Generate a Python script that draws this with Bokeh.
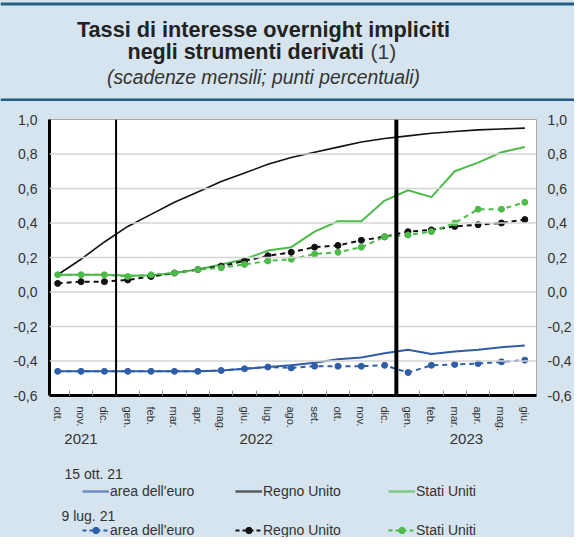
from bokeh.plotting import figure
from bokeh.layouts import column
from bokeh.models import (Range1d, FixedTicker, LinearAxis, Span, Label, Legend,
                          LegendItem, BoxAnnotation)
from bokeh.embed import file_html
from bokeh.resources import INLINE

# ---------------- data ----------------
months = ["ott.", "nov.", "dic.", "gen.", "feb.", "mar.", "apr.", "mag.", "giu.",
          "lug.", "ago.", "set.", "ott.", "nov.", "dic.", "gen.", "feb.", "mar.",
          "apr.", "mag.", "giu."]
years = ["2021", "2022", "2023"]
year_months = [3, 12, 6]          # months of each year shown
y_ticks = [-0.6, -0.4, -0.2, 0.0, 0.2, 0.4, 0.6, 0.8, 1.0]
y_tick_labels = ["-0,6", "-0,4", "-0,2", "0,0", "0,2", "0,4", "0,6", "0,8", "1,0"]
series_names = ["area dell'euro", "Regno Unito", "Stati Uniti"]
dates = ["15 ott. 21", "9 lug. 21"]

# 15 ott. 21 (solid)
euro_15ott = [-0.46, -0.46, -0.46, -0.46, -0.46, -0.46, -0.46, -0.455, -0.445, -0.435,
              -0.425, -0.41, -0.39, -0.38, -0.355, -0.335, -0.36, -0.345, -0.335, -0.32, -0.31]
uk_15ott = [0.10, 0.19, 0.29, 0.38, 0.45, 0.52, 0.58, 0.64, 0.69, 0.74,
            0.78, 0.81, 0.84, 0.87, 0.89, 0.905, 0.92, 0.93, 0.94, 0.945, 0.95]
us_15ott = [0.10, 0.10, 0.10, 0.095, 0.095, 0.11, 0.13, 0.16, 0.19, 0.24,
            0.26, 0.35, 0.41, 0.41, 0.53, 0.59, 0.55, 0.70, 0.75, 0.81, 0.84]
# 9 lug. 21 (dashed)
euro_9lug = [-0.46, -0.46, -0.46, -0.46, -0.46, -0.46, -0.46, -0.455, -0.445, -0.435,
             -0.44, -0.43, -0.43, -0.43, -0.425, -0.467, -0.425, -0.42, -0.415, -0.405, -0.395]
uk_9lug = [0.05, 0.06, 0.06, 0.07, 0.09, 0.11, 0.13, 0.15, 0.18, 0.21,
           0.23, 0.26, 0.27, 0.30, 0.32, 0.35, 0.36, 0.38, 0.39, 0.40, 0.42]
us_9lug = [0.10, 0.10, 0.10, 0.09, 0.10, 0.11, 0.13, 0.14, 0.16, 0.18,
           0.19, 0.22, 0.23, 0.26, 0.32, 0.33, 0.35, 0.40, 0.48, 0.48, 0.52]

# ---------------- style ----------------
FONT = "Liberation Sans"
BLUE = "#2f5ea8"
GREEN = "#4dbb4a"
BLACK = "#111111"
PANEL = "#d5e4ee"
DARK = "#23607f"
TXT = "#333333"
COLORS = [BLUE, BLACK, GREEN]

W = 574
HH, MH, LH = 101, 351, 85          # header / chart / legend heights
FL, FR, FT, FB = 49, 537, 18, 294  # chart frame edges (canvas px)

x = list(range(len(months)))


def blank_fig(height):
    f = figure(width=W, height=height, output_backend="svg", toolbar_location=None,
               x_range=Range1d(0, W), y_range=Range1d(height, 0),
               min_border_left=0, min_border_right=0, min_border_top=0,
               min_border_bottom=0, x_axis_type=None, y_axis_type=None,
               frame_align=False)
    f.border_fill_color = PANEL
    f.background_fill_color = PANEL
    f.outline_line_color = None
    f.xgrid.visible = False
    f.ygrid.visible = False
    return f


# ---------------- header ----------------
h = blank_fig(HH)
h.add_layout(BoxAnnotation(left=0, right=W, top=2, bottom=5, fill_color=DARK,
                           fill_alpha=1, line_color=None))
h.add_layout(BoxAnnotation(left=0, right=W, top=98, bottom=101, fill_color=DARK,
                           fill_alpha=1, line_color=None))
h.add_layout(Label(x=263, y=29, text="Tassi di interesse overnight impliciti",
                   text_font=FONT, text_font_size="21.7px", text_font_style="bold",
                   text_color="#222222", text_align="center", text_baseline="middle"))
h.add_layout(Label(x=127, y=51, text="negli strumenti derivati",
                   text_font=FONT, text_font_size="21.5px", text_font_style="bold",
                   text_color="#222222", text_align="left", text_baseline="middle"))
h.add_layout(Label(x=370, y=51, text="(1)", text_font=FONT, text_font_size="21px",
                   text_color="#3a3a3a", text_align="left", text_baseline="middle"))
h.add_layout(Label(x=263, y=77, text="(scadenze mensili; punti percentuali)",
                   text_font=FONT, text_font_size="19.3px", text_font_style="italic",
                   text_color=TXT, text_align="center", text_baseline="middle"))

# ---------------- chart ----------------
p = figure(width=W, height=MH, output_backend="svg", toolbar_location=None,
           x_range=Range1d(-0.35, len(months) - 0.5), y_range=Range1d(-0.6, 1.0),
           min_border_left=FL, min_border_right=W - FR,
           min_border_top=FT, min_border_bottom=MH - FB,
           x_axis_type=None, y_axis_type=None, frame_align=False)
p.border_fill_color = PANEL
p.background_fill_color = "white"
p.outline_line_color = "#a8a8a8"
p.outline_line_width = 1
p.ygrid.visible = False
p.xgrid.visible = False

for yt in y_ticks[1:-1]:
    p.add_layout(Span(location=yt, dimension="width", line_color="#d4d4d4", line_width=1.5))

bounds = []
acc = 0
for n in year_months:
    bounds.append(acc)
    acc += n

xaxis = LinearAxis(ticker=FixedTicker(ticks=x, minor_ticks=[i + 0.5 for i in x[:-1]]),
                   major_label_overrides={i: m for i, m in enumerate(months)},
                   major_label_orientation="vertical",
                   major_label_text_font=FONT, major_label_text_font_size="11px",
                   major_label_text_color=TXT, major_label_standoff=5,
                   axis_line_color="black", axis_line_width=3,
                   major_tick_line_color=None,
                   minor_tick_line_color="#9a9a9a", minor_tick_in=5, minor_tick_out=0)
p.add_layout(xaxis, "below")

year_centers = [b + (n - 1) / 2 for b, n in zip(bounds, year_months)]
year_axis = LinearAxis(ticker=FixedTicker(ticks=year_centers),
                       major_label_overrides={c: yv for c, yv in zip(year_centers, years)},
                       major_label_text_font=FONT, major_label_text_font_size="15px",
                       major_label_text_color=TXT, major_label_standoff=-6,
                       axis_line_color=None, major_tick_line_color=None,
                       minor_tick_line_color=None)
p.add_layout(year_axis, "below")

for side, standoff in (("left", 12), ("right", 11)):
    ax = LinearAxis(ticker=FixedTicker(ticks=y_ticks),
                    major_label_overrides={t: l for t, l in zip(y_ticks, y_tick_labels)},
                    major_label_text_font=FONT, major_label_text_font_size="14px",
                    major_label_text_color=TXT, major_label_standoff=standoff,
                    axis_line_color="black" if side == "left" else None,
                    axis_line_width=3, major_tick_in=0, major_tick_out=0,
                    major_tick_line_color=None, minor_tick_line_color=None)
    p.add_layout(ax, side)

p.add_layout(Span(location=bounds[1] - 0.5, dimension="height", line_color="black", line_width=2))
p.add_layout(Span(location=bounds[2] - 0.5, dimension="height", line_color="black", line_width=4))

solid = [euro_15ott, uk_15ott, us_15ott]
dashed = [euro_9lug, uk_9lug, us_9lug]
for vals, col in zip(solid, COLORS):
    p.line(x, vals, line_color=col, line_width=2 if col != BLACK else 1.6)
for vals, col in zip(dashed, COLORS):
    p.line(x, vals, line_color=col, line_width=2, line_dash="5 4")
    p.scatter(x, vals, marker="circle", size=6, fill_color=col, line_color=col)

# ---------------- legend ----------------
lg = blank_fig(LH)
lg.extra_x_ranges = {"off": Range1d(1000, 2000)}   # keeps the sample glyphs off-canvas
lg.add_layout(Label(x=64, y=21, text=dates[0], text_font=FONT, text_font_size="14px",
                    text_color=TXT, text_align="left", text_baseline="middle"))
lg.add_layout(Label(x=61, y=63, text=dates[1], text_font=FONT, text_font_size="14px",
                    text_color=TXT, text_align="left", text_baseline="middle"))

items1, items2 = [], []
for name, col, v1, v2 in zip(series_names, COLORS, solid, dashed):
    r = lg.line(x, v1, line_color=col, line_width=2.5, alpha=0.65, x_range_name="off")
    items1.append(LegendItem(label=name, renderers=[r]))
    r2 = lg.line(x, v2, line_color=col, line_width=2, line_dash="4 3", x_range_name="off")
    s2 = lg.scatter(x, v2, marker="circle", size=6, fill_color=col, line_color=col,
                    x_range_name="off")
    items2.append(LegendItem(label=name, renderers=[r2, s2]))


def make_legend(items, row_center):
    return Legend(items=items, orientation="horizontal",
                  location=(82, LH - (row_center + 8)),
                  padding=0, margin=0, spacing=0,
                  glyph_width=27, glyph_height=16, label_height=16,
                  label_width=125, label_standoff=1,
                  label_text_font=FONT, label_text_font_size="14px",
                  label_text_color=TXT,
                  background_fill_alpha=0, border_line_alpha=0)


lg.add_layout(make_legend(items1, 39), "center")
lg.add_layout(make_legend(items2, 78), "center")

layout = column(h, p, lg, spacing=0, styles={"background-color": PANEL})
open("out.html", "w").write(file_html(layout, INLINE))
